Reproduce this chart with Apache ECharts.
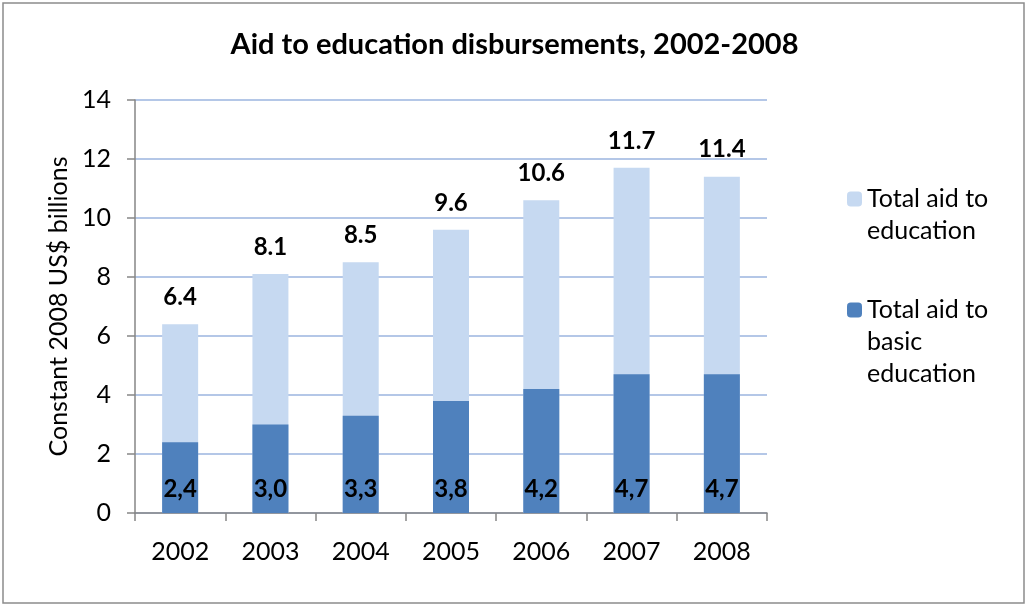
<!DOCTYPE html>
<html>
<head>
<meta charset="utf-8">
<script src="https://cdn.jsdelivr.net/npm/echarts@6/dist/echarts.min.js"></script>
<style>
html,body{margin:0;padding:0;background:#fff;}
#chart{width:1029px;height:607px;}
</style>
</head>
<body>
<div id="chart"></div>
<script>
const categories = ['2002','2003','2004','2005','2006','2007','2008'];
const totalAid = [6.4, 8.1, 8.5, 9.6, 10.6, 11.7, 11.4];
const basicAid = [2.4, 3.0, 3.3, 3.8, 4.2, 4.7, 4.7];
const seriesNames = ['Total aid to education', 'Total aid to basic education'];
const legendLabels = ['\nTotal aid to\neducation', '\n\nTotal aid to\nbasic\neducation'];

const FONT = 'Lato';
const chart = echarts.init(document.getElementById('chart'));
chart.setOption({
  animation: false,
  textStyle: { fontFamily: FONT },
  title: {
    text: 'Aid to education disbursements, 2002-2008',
    left: 'center',
    top: 25,
    textStyle: { fontFamily: FONT, fontWeight: 'bold', fontSize: 29, color: '#000' }
  },
  graphic: [{
    type: 'rect',
    shape: { x: 3, y: 3, width: 1021, height: 600 },
    style: { fill: 'none', stroke: '#8c8c8c', lineWidth: 1.5 },
    silent: true
  }],
  legend: [
    {
      data: [seriesNames[0]],
      left: 847, top: 151, padding: 0,
      itemWidth: 15, itemHeight: 15,
      formatter: () => legendLabels[0],
      textStyle: { fontFamily: FONT, fontSize: 25, lineHeight: 32, color: '#000' }
    },
    {
      data: [seriesNames[1]],
      left: 847, top: 230, padding: 0,
      itemWidth: 15, itemHeight: 15,
      formatter: () => legendLabels[1],
      textStyle: { fontFamily: FONT, fontSize: 25, lineHeight: 32, color: '#000' }
    }
  ],
  grid: { left: 135, right: 262, top: 100, bottom: 94, containLabel: false },
  xAxis: {
    type: 'category',
    data: categories,
    axisLine: { lineStyle: { color: '#868686', width: 1.5 } },
    axisTick: { show: true, alignWithLabel: false, length: 8, lineStyle: { color: '#868686', width: 1.5 } },
    axisLabel: { fontFamily: FONT, fontSize: 25, color: '#000', margin: 26 }
  },
  yAxis: {
    type: 'value',
    min: 0, max: 14, interval: 2,
    name: 'Constant 2008 US$ billions',
    nameLocation: 'middle',
    nameGap: 57,
    nameTextStyle: { fontFamily: FONT, fontSize: 25, color: '#000' },
    axisLine: { show: true, lineStyle: { color: '#868686', width: 1.5 } },
    axisTick: { show: true, length: 8, lineStyle: { color: '#868686', width: 1.5 } },
    axisLabel: { fontFamily: FONT, fontSize: 25, color: '#000', margin: 24 },
    splitLine: { lineStyle: { color: '#b4c7e7', width: 2 } }
  },
  series: [
    {
      name: seriesNames[0],
      type: 'bar',
      data: totalAid,
      barWidth: 36,
      barGap: '-100%',
      itemStyle: { color: '#c6d9f1' },
      label: {
        show: true, position: 'top', distance: 15,
        fontFamily: FONT, fontSize: 24, fontWeight: 'bold', color: '#000',
        formatter: p => p.value.toFixed(1)
      }
    },
    {
      name: seriesNames[1],
      type: 'bar',
      data: basicAid,
      barWidth: 36,
      barGap: '-100%',
      itemStyle: { color: '#4f81bd' },
      label: {
        show: true, position: 'insideBottom', distance: 12,
        fontFamily: FONT, fontSize: 24, fontWeight: 'bold', color: '#000',
        formatter: p => p.value.toFixed(1).replace('.', ',')
      }
    }
  ]
});
</script>
</body>
</html>
